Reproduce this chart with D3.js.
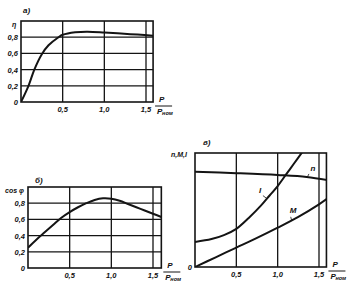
<!DOCTYPE html>
<html>
<head>
<meta charset="utf-8">
<script src="https://cdn.jsdelivr.net/npm/d3@7.9.0/dist/d3.min.js"></script>
<style>
  body { margin: 0; background: #fff; }
  svg { display: block; }
  text { font-family: "Liberation Sans", Arial, sans-serif; font-style: italic; font-weight: bold; fill: #111; }
</style>
</head>
<body>
<svg width="351" height="302"></svg>
<script>
// x axis ticks shared by the three panels
const xTicks = [0.5, 1.0, 1.5];
const xTickLabels = ['0,5', '1,0', '1,5'];
const yTicks = [0.2, 0.4, 0.6, 0.8];
const yTickLabels = ['0,2', '0,4', '0,6', '0,8'];

// a) efficiency
const etaX = [0, 0.09, 0.16, 0.25, 0.33, 0.45, 0.5, 0.65, 0.8, 1.0, 1.2, 1.4, 1.6];
const etaY = [0, 0.2, 0.4, 0.59, 0.7, 0.8, 0.83, 0.862, 0.868, 0.858, 0.845, 0.832, 0.818];

// б) power factor
const cosX = [0, 0.1, 0.2, 0.3, 0.4, 0.5, 0.6, 0.7, 0.8, 0.9, 1.0, 1.1, 1.2, 1.3, 1.4, 1.5, 1.6];
const cosY = [0.25, 0.35, 0.44, 0.53, 0.62, 0.69, 0.75, 0.8, 0.84, 0.86, 0.855, 0.83, 0.79, 0.75, 0.71, 0.67, 0.63];

// в) speed, torque, current (relative units)
const nX = [0, 0.5, 1.0, 1.35, 1.6];
const nY = [0.836, 0.823, 0.807, 0.79, 0.762];
const iX = [0, 0.2, 0.35, 0.5, 0.65, 0.8, 0.9, 1.0, 1.1, 1.2, 1.3];
const iY = [0.22, 0.245, 0.28, 0.335, 0.43, 0.54, 0.625, 0.71, 0.81, 0.91, 1.01];
const mX = [0, 0.25, 0.5, 0.75, 1.0, 1.25, 1.5, 1.6];
const mY = [0, 0.085, 0.17, 0.255, 0.345, 0.44, 0.55, 0.6];

const svg = d3.select('svg');
const ink = '#141414';

function panel(o) {
  const x = d3.scaleLinear().domain([0, 1.5]).range([o.x0, o.x15]);
  const y = d3.scaleLinear().domain([0, 1]).range([o.y0, o.y1]);
  const g = svg.append('g');
  const right = x(o.xMax);

  // vertical grid
  xTicks.forEach(t => {
    g.append('line').attr('x1', x(t)).attr('x2', x(t)).attr('y1', y(0)).attr('y2', y(1))
      .attr('stroke', ink).attr('stroke-width', 1.3);
  });
  // horizontal grid
  if (o.yGrid) {
    yTicks.forEach((t, i) => {
      g.append('line').attr('x1', x(0)).attr('x2', right).attr('y1', y(t)).attr('y2', y(t))
        .attr('stroke', ink).attr('stroke-width', 1.3);
      g.append('text').attr('x', x(0) - 3).attr('y', y(t) + 3).attr('text-anchor', 'end')
        .attr('font-size', 7.5).text(yTickLabels[i]);
    });
  }
  // frame
  g.append('rect').attr('x', x(0)).attr('y', y(1)).attr('width', right - x(0)).attr('height', y(0) - y(1))
    .attr('fill', 'none').attr('stroke', ink).attr('stroke-width', 1.6);

  xTicks.forEach((t, i) => {
    g.append('text').attr('x', x(t)).attr('y', y(0) + 10).attr('text-anchor', 'middle')
      .attr('font-size', 7.5).text(xTickLabels[i]);
  });
  g.append('text').attr('x', x(0) - 3).attr('y', y(0) + 3).attr('text-anchor', 'end')
    .attr('font-size', 7.5).text('0');

  // P / Pном
  const px = right + 2;
  g.append('text').attr('x', px + 4).attr('y', y(0)).attr('font-size', 8).text('P');
  g.append('line').attr('x1', px).attr('x2', px + 17).attr('y1', y(0) + 4).attr('y2', y(0) + 4)
    .attr('stroke', ink).attr('stroke-width', 1);
  g.append('text').attr('x', px + 2).attr('y', y(0) + 12).attr('font-size', 8).text('P');
  g.append('text').attr('x', px + 7).attr('y', y(0) + 13).attr('font-size', 5.5).text('ном');

  // title and y label
  g.append('text').attr('x', o.title[0]).attr('y', o.title[1]).attr('font-size', 8).text(o.titleText);
  g.append('text').attr('x', o.ylab[0]).attr('y', o.ylab[1]).attr('font-size', 7).text(o.ylabText);

  const clipId = 'c' + o.titleText.charCodeAt(0);
  svg.append('clipPath').attr('id', clipId).append('rect')
    .attr('x', x(0)).attr('y', y(1)).attr('width', right - x(0)).attr('height', y(0) - y(1));

  const line = d3.line().x(d => x(d[0])).y(d => y(d[1])).curve(d3.curveCatmullRom.alpha(0.5));
  o.series.forEach(s => {
    g.append('path').datum(d3.zip(s.xs, s.ys)).attr('d', line)
      .attr('fill', 'none').attr('stroke', ink).attr('stroke-width', 2)
      .attr('clip-path', `url(#${clipId})`);
  });
  return { x, y, g };
}

panel({
  x0: 21, x15: 146, xMax: 1.585, y0: 102, y1: 21, yGrid: true,
  title: [23, 13], titleText: 'а)', ylab: [12, 27], ylabText: 'η',
  series: [{ xs: etaX, ys: etaY }]
});

panel({
  x0: 28, x15: 153, xMax: 1.6, y0: 268, y1: 187, yGrid: true,
  title: [35, 183], titleText: 'б)', ylab: [5, 193], ylabText: 'cos φ',
  series: [{ xs: cosX, ys: cosY }]
});

const p3 = panel({
  x0: 195, x15: 319, xMax: 1.59, y0: 267, y1: 153, yGrid: false,
  title: [203, 145], titleText: 'в)', ylab: [171, 157], ylabText: 'n,M,I',
  series: [{ xs: nX, ys: nY }, { xs: iX, ys: iY }, { xs: mX, ys: mY }]
});

// curve labels with small leaders
const curveLabels = [
  { t: 'I', at: 0.87, v: 0.6, dx: -8, dy: -6 },
  { t: 'M', at: 1.17, v: 0.405, dx: -2, dy: -8 },
  { t: 'n', at: 1.36, v: 0.79, dx: 3, dy: -6 }
];
curveLabels.forEach(c => {
  const cx = p3.x(c.at), cy = p3.y(c.v);
  p3.g.append('line').attr('x1', cx).attr('y1', cy).attr('x2', cx + c.dx * 0.5).attr('y2', cy + c.dy * 0.5)
    .attr('stroke', ink).attr('stroke-width', 0.8);
  p3.g.append('text').attr('x', cx + c.dx).attr('y', cy + c.dy).attr('font-size', 8).text(c.t);
});
</script>
</body>
</html>
